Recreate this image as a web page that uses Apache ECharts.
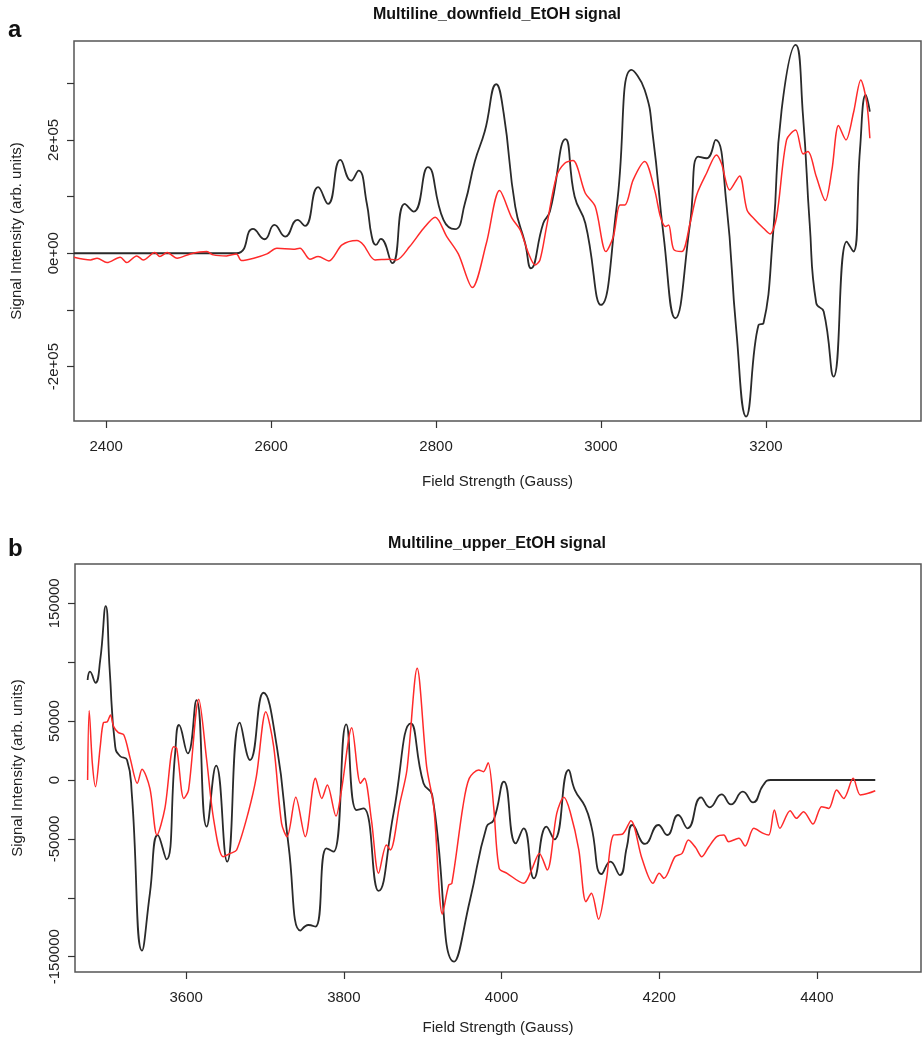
<!DOCTYPE html>
<html>
<head>
<meta charset="UTF-8">
<title>Multiline EtOH signal</title>
<script src="https://cdn.jsdelivr.net/npm/echarts@6/dist/echarts.min.js"></script>
<style>
    html, body { margin: 0; padding: 0; background: #fff; }
    #main { width: 923px; height: 1040px; }
</style>
</head>
<body>
<div id="main"></div>
<script>
// panel a, Multiline_downfield_EtOH signal: [field (Gauss), intensity]
var downfieldBlack = [
    [2361, 0], [2558, 0], [2578, 42900], [2592, 24700], [2604, 50000], [2617, 29400],
    [2632, 58800], [2641, 48200], [2657, 116500], [2669, 87100], [2684, 164700],
    [2697, 128200], [2706, 145900], [2716, 88200], [2722, 30000], [2727, 14700],
    [2733, 25300], [2747, -17600], [2762, 87100], [2773, 73500], [2790, 151800],
    [2809, 58800], [2823, 42400], [2835, 88200], [2847, 161800], [2859, 214700],
    [2873, 298200], [2882, 247000], [2896, 82400], [2908, 17600], [2915, -26500],
    [2930, 52900], [2938, 73500], [2957, 201200], [2968, 100000], [2981, 52900],
    [3000, -91200], [3019, 82400], [3037, 323500], [3053, 288200], [3063, 205900],
    [3076, 29400], [3090, -114700], [3108, 52900], [3118, 170600], [3128, 167600],
    [3139, 200000], [3152, 88200], [3164, -135300], [3176, -288200], [3191, -126500],
    [3197, -123500], [3209, 41200], [3219, 252900], [3236, 367600], [3245, 241200],
    [3253, 52900], [3261, -88200], [3270, -102900], [3282, -217600], [3298, 20600],
    [3306, 2900], [3314, 182300], [3321, 279400], [3326, 250000]
];
var downfieldRed = [
    [2361, -7100], [2381, -11800], [2389, -8800], [2401, -16500], [2417, -7100],
    [2425, -16500], [2437, -4700], [2445, -11800], [2459, 1200], [2465, -5900],
    [2474, 1200], [2486, -8800], [2502, -1200], [2522, 2900], [2530, -2900],
    [2546, -4700], [2558, -1200], [2564, -12900], [2579, -8800], [2595, -1200],
    [2607, 8800], [2627, 7100], [2635, 8800], [2647, -10600], [2657, -5900],
    [2670, -13500], [2686, 14700], [2704, 22400], [2712, 14700], [2726, -11800],
    [2744, -10600], [2752, -11800], [2768, 11800], [2785, 44100], [2799, 63500],
    [2813, 29400], [2827, -1200], [2844, -60600], [2861, 17600], [2877, 110600],
    [2892, 61800], [2902, 41200], [2912, 0], [2920, -20600], [2926, -11800],
    [2934, 47100], [2946, 135300], [2956, 158800], [2966, 163500], [2981, 105900],
    [2993, 82400], [3006, 2900], [3015, 29400], [3023, 85300], [3029, 85300],
    [3039, 129400], [3053, 161800], [3065, 111800], [3072, 64700], [3078, 47100],
    [3082, 50000], [3088, 7100], [3098, 2900], [3108, 52900], [3116, 102900],
    [3128, 141200], [3140, 173500], [3146, 158800], [3156, 111800], [3168, 136500],
    [3177, 76500], [3187, 58800], [3197, 44100], [3205, 34100], [3213, 64700],
    [3225, 200000], [3236, 217600], [3245, 175300], [3251, 179400], [3261, 135300],
    [3272, 92900], [3280, 147100], [3288, 225300], [3297, 200000], [3306, 247000],
    [3315, 305900], [3322, 267600], [3326, 202900]
];

// panel b, Multiline_upper_EtOH signal
var upperBlack = [
    [3475, 84900], [3478, 92000], [3485, 82600], [3491, 101900], [3498, 147700],
    [3503, 93400], [3510, 28300], [3516, 20400], [3525, 17000], [3531, -11300],
    [3544, -144900], [3554, -96200], [3564, -46700], [3575, -67400], [3586, 22600],
    [3591, 46700], [3602, 22600], [3613, 67900], [3626, -39600], [3638, 12200],
    [3652, -69300], [3668, 48700], [3681, 17000], [3698, 74100], [3715, 28300],
    [3730, -56600], [3745, -127900], [3755, -123100], [3764, -124500], [3778, -58000],
    [3787, -60800], [3803, 47300], [3816, -25500], [3825, -24100], [3844, -94200],
    [3863, -28300], [3885, 48100], [3901, -2800], [3912, -12700], [3940, -154200],
    [3960, -101900], [3981, -39600], [3990, -34000], [4003, -1400], [4018, -53800],
    [4028, -41000], [4041, -83500], [4057, -39600], [4067, -50400], [4085, 8500],
    [4093, -8500], [4106, -22600], [4114, -39600], [4127, -79800], [4138, -69300],
    [4150, -80700], [4159, -56600], [4166, -38200], [4182, -54300], [4199, -38200],
    [4210, -46700], [4224, -29700], [4236, -41000], [4253, -14700], [4264, -23200],
    [4279, -12200], [4291, -20700], [4306, -9900], [4319, -19000], [4332, -4200],
    [4341, 0], [4474, 0]
];
var upperRed = [
    [3475, 0], [3477, 58900], [3481, 14200], [3485, -5700], [3491, 28300],
    [3495, 48700], [3500, 49500], [3504, 55200], [3508, 45300], [3514, 40200],
    [3521, 38200], [3529, 18400], [3538, -2800], [3544, 9100], [3554, -7100],
    [3563, -46700], [3573, -24100], [3584, 28300], [3588, 26900], [3597, -15600],
    [3603, -8500], [3616, 68500], [3626, 17000], [3635, -34000], [3647, -65100],
    [3656, -62300], [3664, -59400], [3679, -26900], [3689, 2800], [3701, 58000],
    [3711, 28300], [3721, -36800], [3728, -48100], [3739, -14700], [3751, -48100],
    [3764, 1400], [3772, -15600], [3779, -4200], [3790, -30600], [3797, -8500],
    [3810, 44400], [3821, -2800], [3826, 1400], [3835, -34000], [3844, -79200],
    [3854, -55200], [3859, -59400], [3871, -19800], [3880, 8500], [3893, 94800],
    [3905, 11300], [3914, -22600], [3925, -113800], [3933, -89100], [3937, -87700],
    [3951, -22600], [3959, 1400], [3971, 8500], [3977, 7100], [3983, 14700],
    [3990, -22600], [3997, -75000], [4007, -79200], [4028, -87700], [4038, -76400],
    [4048, -62300], [4058, -76400], [4070, -28300], [4079, -14700], [4087, -26900],
    [4098, -59400], [4107, -103300], [4114, -96200], [4123, -118300], [4133, -84900],
    [4142, -46700], [4153, -46100], [4164, -34500], [4178, -66500], [4192, -87700],
    [4200, -79200], [4206, -83500], [4220, -65100], [4229, -62300], [4237, -50900],
    [4246, -57200], [4254, -65100], [4263, -56600], [4273, -48100], [4282, -46700],
    [4288, -52400], [4301, -49500], [4309, -56000], [4320, -41000], [4332, -45300],
    [4339, -46700], [4346, -25500], [4353, -41000], [4366, -26000], [4374, -32500],
    [4383, -26900], [4395, -37400], [4406, -22600], [4415, -24100], [4425, -8500],
    [4434, -15600], [4446, 1400], [4455, -12700], [4465, -11300], [4474, -9100]
];

// ticks and labels
var downfieldXTicks = [2400, 2600, 2800, 3000, 3200];
var downfieldYTicks = [-200000, -100000, 0, 100000, 200000, 300000];
var downfieldYLabels = [-200000, 0, 200000];
var upperXTicks = [3600, 3800, 4000, 4200, 4400];
var upperYTicks = [-150000, -100000, -50000, 0, 50000, 100000, 150000];
var upperYLabels = [-150000, -50000, 0, 50000, 150000];

var FONT = '"Liberation Sans", Arial, sans-serif';
var INK = '#333';

function sciLabel(v) {
    if (v === 0) return '0e+00';
    return (v / 100000) + 'e+05';
}

function xAxisOf(gridIndex, min, max, ticks, nameGap) {
    return {
        type: 'value', gridIndex: gridIndex, min: min, max: max,
        name: 'Field Strength (Gauss)', nameLocation: 'middle', nameGap: nameGap,
        nameTextStyle: { fontFamily: FONT, fontSize: 15, color: '#222' },
        axisLine: { show: false, onZero: false },
        axisTick: { show: true, inside: false, length: 7, customValues: ticks,
            lineStyle: { color: INK, width: 1.2 } },
        axisLabel: { customValues: ticks, margin: 18, fontFamily: FONT, fontSize: 15, color: '#222',
            formatter: function (v) { return String(v); } },
        splitLine: { show: false }
    };
}

function yAxisOf(gridIndex, min, max, ticks, labels, fmt) {
    return {
        type: 'value', gridIndex: gridIndex, min: min, max: max,
        name: 'Signal Intensity (arb. units)', nameLocation: 'middle', nameGap: 50,
        nameTextStyle: { fontFamily: FONT, fontSize: 15, color: '#222' },
        axisLine: { show: false, onZero: false },
        axisTick: { show: true, inside: false, length: 7, customValues: ticks,
            lineStyle: { color: INK, width: 1.2 } },
        axisLabel: { customValues: labels, rotate: 90, margin: 13, formatter: fmt,
            fontFamily: FONT, fontSize: 15, color: '#222' },
        splitLine: { show: false }
    };
}

function lineOf(data, gi, color, width, smooth) {
    return {
        type: 'line', xAxisIndex: gi, yAxisIndex: gi, data: data,
        showSymbol: false, smooth: smooth, animation: false,
        lineStyle: { color: color, width: width }
    };
}

var chart = echarts.init(document.getElementById('main'));
chart.setOption({
    backgroundColor: '#fff',
    animation: false,
    grid: [
        { left: 74, top: 41, width: 847, height: 380, show: true,
          borderColor: '#555', borderWidth: 1.5, backgroundColor: 'transparent' },
        { left: 75, top: 564, width: 846, height: 408, show: true,
          borderColor: '#555', borderWidth: 1.5, backgroundColor: 'transparent' }
    ],
    xAxis: [
        xAxisOf(0, 2361, 3388, downfieldXTicks, 53),
        xAxisOf(1, 3459, 4532, upperXTicks, 48)
    ],
    yAxis: [
        yAxisOf(0, -296000, 374500, downfieldYTicks, downfieldYLabels, sciLabel),
        yAxisOf(1, -163000, 183400, upperYTicks, upperYLabels, function (v) { return String(v); })
    ],
    series: [
        lineOf(downfieldBlack, 0, '#2a2a2a', 1.8, 0.5),
        lineOf(downfieldRed, 0, '#ff2a2a', 1.5, 0.3),
        lineOf(upperBlack, 1, '#2a2a2a', 1.8, 0.5),
        lineOf(upperRed, 1, '#ff2a2a', 1.5, 0.3)
    ],
    graphic: [
        { type: 'text', x: 497, y: 15, style: { text: 'Multiline_downfield_EtOH signal',
            font: 'bold 16px ' + FONT, fill: '#111', align: 'center', verticalAlign: 'middle' } },
        { type: 'text', x: 497, y: 544, style: { text: 'Multiline_upper_EtOH signal',
            font: 'bold 16px ' + FONT, fill: '#111', align: 'center', verticalAlign: 'middle' } },
        { type: 'text', x: 8, y: 30, style: { text: 'a',
            font: 'bold 24px ' + FONT, fill: '#111', align: 'left', verticalAlign: 'middle' } },
        { type: 'text', x: 8, y: 549, style: { text: 'b',
            font: 'bold 24px ' + FONT, fill: '#111', align: 'left', verticalAlign: 'middle' } }
    ]
});
</script>
</body>
</html>
